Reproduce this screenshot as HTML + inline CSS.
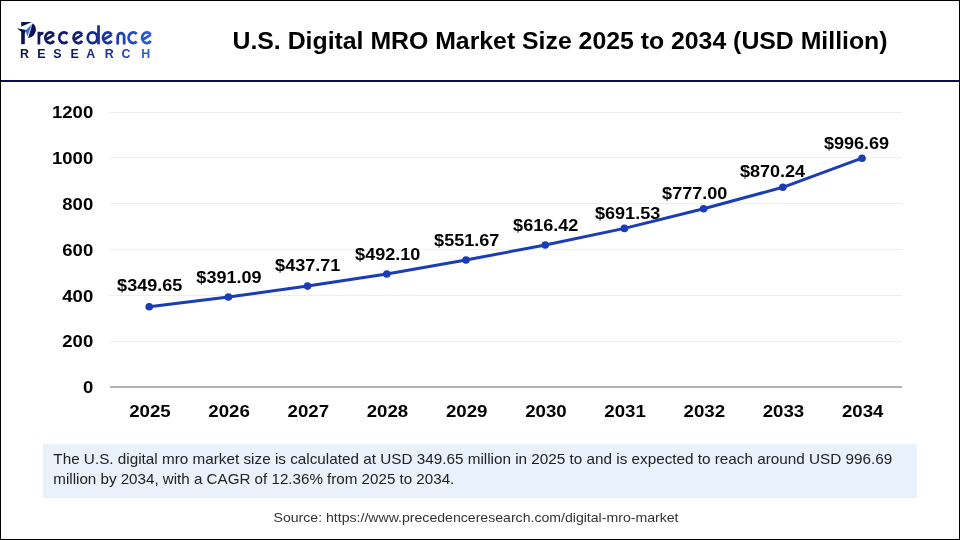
<!DOCTYPE html>
<html><head><meta charset="utf-8"><style>
html,body{margin:0;padding:0;background:#fff;width:960px;height:540px;overflow:hidden}
svg{display:block;will-change:transform}
text{font-family:"Liberation Sans",sans-serif}
</style></head><body>
<svg width="960" height="540" viewBox="0 0 960 540">
<defs>
<linearGradient id="lg" gradientUnits="userSpaceOnUse" x1="20" y1="0" x2="154" y2="0">
<stop offset="0" stop-color="#0c1254"/><stop offset="0.4" stop-color="#121e74"/><stop offset="0.7" stop-color="#1a39a8"/><stop offset="1" stop-color="#2862e0"/>
</linearGradient>
</defs>
<rect x="0" y="0" width="960" height="540" fill="#fff"/>

<rect x="0" y="80" width="960" height="2" fill="#0c0c50"/>
<rect x="0.5" y="0.5" width="959" height="539" fill="none" stroke="#000" stroke-width="1"/>
<text x="232.5" y="49.4" font-size="24" font-weight="bold" fill="#000" textLength="655" lengthAdjust="spacingAndGlyphs">U.S. Digital MRO Market Size 2025 to 2034 (USD Million)</text>
<g fill="#0c1254">
<path d="M21.2,21.9 L31.9,21.9 L21.2,26.7 Z"/>
<path d="M17.0,28.2 L26.2,30.0 L24.8,33.2 L21.2,31.8 Z"/>
<rect x="21.2" y="30.2" width="3.6" height="14.0"/>
<path d="M32.6,23.2 A8.2,8.2 0 0 1 28.1,37.9 Z"/>
</g>
<path d="M32.0,24.0 L25.6,30.6 L27.3,36.5 Z" fill="#2f6fe6"/>
<g fill="none" stroke="url(#lg)" stroke-width="2.75" stroke-linecap="butt">
<path d="M38.9,31.8 L38.9,44.4 M38.9,37.6 Q38.9,33.0 43.5,33.0"/>
<path d="M53.88,34.49 A4.8,5.3 0 1 0 53.98,40.87 M45.68,39.82 L54.13,34.59"/>
<path d="M67.43,33.94 A4.8,5.3 0 1 0 67.43,41.56"/>
<path d="M82.13,34.49 A4.8,5.3 0 1 0 82.23,40.87 M73.93,39.82 L82.38,34.59"/>
<ellipse cx="92.5" cy="37.75" rx="4.8" ry="5.3"/>
<path d="M98.5,25.3 L98.5,44.4"/>
<path d="M111.58,34.49 A4.8,5.3 0 1 0 111.68,40.87 M103.38,39.82 L111.83,34.59"/>
<path d="M117.7,44.4 L117.7,36.4 A3.23,3.23 0 0 1 124.16,36.4 L124.16,44.4"/>
<path d="M136.73,33.94 A4.8,5.3 0 1 0 136.73,41.56"/>
<path d="M150.68,34.49 A4.8,5.3 0 1 0 150.78,40.87 M142.48,39.82 L150.93,34.59"/>
</g>
<g font-size="12.4" font-weight="bold">
<text x="20.0" y="57.8" fill="#0c1254">R</text>
<text x="37.2" y="57.8" fill="#0e1660">E</text>
<text x="53.2" y="57.8" fill="#10196a">S</text>
<text x="70.4" y="57.8" fill="#121d72">E</text>
<text x="86.3" y="57.8" fill="#16278a">A</text>
<text x="104.8" y="57.8" fill="#1a339e">R</text>
<text x="121.6" y="57.8" fill="#2146bc">C</text>
<text x="141.3" y="57.8" fill="#2a5fdc">H</text>
</g>
<rect x="110" y="112.00" width="792" height="1" fill="#eeeeee"/>
<rect x="110" y="157.00" width="792" height="1" fill="#eeeeee"/>
<rect x="110" y="203.00" width="792" height="1" fill="#eeeeee"/>
<rect x="110" y="249.00" width="792" height="1" fill="#eeeeee"/>
<rect x="110" y="295.00" width="792" height="1" fill="#eeeeee"/>
<rect x="110" y="341.00" width="792" height="1" fill="#eeeeee"/>
<rect x="110" y="386" width="792" height="2" fill="#b3b3b3"/>
<g font-size="17" font-weight="bold" fill="#000" text-anchor="end">
<text x="93.2" y="118.1" textLength="41.21" lengthAdjust="spacingAndGlyphs">1200</text>
<text x="93.2" y="164.0" textLength="41.21" lengthAdjust="spacingAndGlyphs">1000</text>
<text x="93.2" y="209.8" textLength="30.91" lengthAdjust="spacingAndGlyphs">800</text>
<text x="93.2" y="255.7" textLength="30.91" lengthAdjust="spacingAndGlyphs">600</text>
<text x="93.2" y="301.5" textLength="30.91" lengthAdjust="spacingAndGlyphs">400</text>
<text x="93.2" y="347.4" textLength="30.91" lengthAdjust="spacingAndGlyphs">200</text>
<text x="93.2" y="393.2" textLength="10.30" lengthAdjust="spacingAndGlyphs">0</text>
</g>
<g font-size="17" font-weight="bold" fill="#000" text-anchor="middle">
<text x="149.9" y="417" textLength="41.48" lengthAdjust="spacingAndGlyphs">2025</text>
<text x="229.1" y="417" textLength="41.48" lengthAdjust="spacingAndGlyphs">2026</text>
<text x="308.3" y="417" textLength="41.48" lengthAdjust="spacingAndGlyphs">2027</text>
<text x="387.5" y="417" textLength="41.48" lengthAdjust="spacingAndGlyphs">2028</text>
<text x="466.7" y="417" textLength="41.48" lengthAdjust="spacingAndGlyphs">2029</text>
<text x="545.9" y="417" textLength="41.48" lengthAdjust="spacingAndGlyphs">2030</text>
<text x="625.1" y="417" textLength="41.48" lengthAdjust="spacingAndGlyphs">2031</text>
<text x="704.3" y="417" textLength="41.48" lengthAdjust="spacingAndGlyphs">2032</text>
<text x="783.5" y="417" textLength="41.48" lengthAdjust="spacingAndGlyphs">2033</text>
<text x="862.7" y="417" textLength="41.48" lengthAdjust="spacingAndGlyphs">2034</text>
</g>
<polyline points="149.2,306.7 228.4,297.0 307.6,286.1 386.8,274.0 466.0,260.0 545.2,245.0 624.4,228.4 703.6,208.8 782.8,187.3 862.0,158.2" fill="none" stroke="#1a3cb4" stroke-width="3.0" stroke-linejoin="round"/>
<circle cx="149.2" cy="306.7" r="3.8" fill="#1a3cb4"/>
<circle cx="228.4" cy="297.0" r="3.8" fill="#1a3cb4"/>
<circle cx="307.6" cy="286.1" r="3.8" fill="#1a3cb4"/>
<circle cx="386.8" cy="274.0" r="3.8" fill="#1a3cb4"/>
<circle cx="466.0" cy="260.0" r="3.8" fill="#1a3cb4"/>
<circle cx="545.2" cy="245.0" r="3.8" fill="#1a3cb4"/>
<circle cx="624.4" cy="228.4" r="3.8" fill="#1a3cb4"/>
<circle cx="703.6" cy="208.8" r="3.8" fill="#1a3cb4"/>
<circle cx="782.8" cy="187.3" r="3.8" fill="#1a3cb4"/>
<circle cx="862.0" cy="158.2" r="3.8" fill="#1a3cb4"/>
<g font-size="17" font-weight="bold" fill="#000">
<text x="117.1" y="291.25" textLength="65.25" lengthAdjust="spacingAndGlyphs">$349.65</text>
<text x="196.35" y="283" textLength="65.25" lengthAdjust="spacingAndGlyphs">$391.09</text>
<text x="275.1" y="271.25" textLength="65.25" lengthAdjust="spacingAndGlyphs">$437.71</text>
<text x="355.1" y="260" textLength="65.25" lengthAdjust="spacingAndGlyphs">$492.10</text>
<text x="434.1" y="245.75" textLength="65.25" lengthAdjust="spacingAndGlyphs">$551.67</text>
<text x="513.1" y="230.7" textLength="65.25" lengthAdjust="spacingAndGlyphs">$616.42</text>
<text x="595.0" y="218.5" textLength="65.25" lengthAdjust="spacingAndGlyphs">$691.53</text>
<text x="662.1" y="198.75" textLength="65.25" lengthAdjust="spacingAndGlyphs">$777.00</text>
<text x="739.9" y="177.2" textLength="65.25" lengthAdjust="spacingAndGlyphs">$870.24</text>
<text x="823.9" y="148.75" textLength="65.25" lengthAdjust="spacingAndGlyphs">$996.69</text>
</g>
<rect x="43" y="444" width="874" height="54" fill="#e9f1fa"/>
<g font-size="15" fill="#222">
<text x="53.3" y="463.8" textLength="839" lengthAdjust="spacingAndGlyphs">The U.S. digital mro market size is calculated at USD 349.65 million in 2025 to and is expected to reach around USD 996.69</text>
<text x="53.3" y="484" textLength="401" lengthAdjust="spacingAndGlyphs">million by 2034, with a CAGR of 12.36% from 2025 to 2034.</text>
</g>
<text x="273.5" y="522.2" font-size="13" fill="#333" textLength="405" lengthAdjust="spacingAndGlyphs">Source: https://www.precedenceresearch.com/digital-mro-market</text>
</svg></body></html>
